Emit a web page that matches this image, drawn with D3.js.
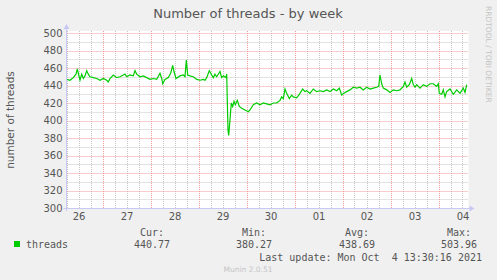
<!DOCTYPE html>
<html>
<head>
<meta charset="utf-8">
<script src="https://cdn.jsdelivr.net/npm/d3@7"></script>
<style>
  body { margin: 0; background: #f0f0f0; }
  svg { display: block; font-family: "DejaVu Sans", sans-serif; }
  .mono { font-family: "DejaVu Sans Mono", monospace; white-space: pre; }
</style>
</head>
<body>
<svg width="497" height="280"></svg>
<script>
// hours since Sep 26 06:00 and the thread count read at that time
var hours = [0.1, 1.75, 3.4, 4.75, 5.4, 6.1, 6.75, 7.6, 8.4, 9.25, 10.1, 10.9, 11.75, 13.4, 15.1, 16.75, 18.4, 20.1, 20.9, 21.75,
  23.4, 25.1, 26.75, 28.4, 29.25, 30.1, 31.75, 33.4, 34.25, 35.1, 36.75, 38.4, 40.1, 41.75, 43.4, 45.1, 46.75, 47.6, 48.1, 49.25,
  50.9, 52.1, 53.1, 53.75, 54.75, 56.75, 58.4, 59.25, 59.9, 60.6, 61.75, 63.4, 65.1, 66.75, 68.4, 69.25, 70.1, 71.4, 72.6, 73.4,
  74.25, 75.1, 76.75, 77.6, 78.4, 79.75, 80.1, 80.4, 80.75, 81.1, 81.75, 82.4, 83.1, 83.75, 84.4, 85.4, 86.4, 87.6, 89.25, 90.9,
  91.75, 93.4, 95.1, 96.75, 98.4, 100.1, 101.75, 103.4, 105.1, 106.75, 107.6, 108.4, 109.25, 110.1, 111.4, 112.6, 113.4, 115.1, 116.75, 118.1,
  119.25, 120.1, 121.75, 123.4, 125.1, 126.75, 128.4, 130.1, 131.75, 133.4, 135.1, 136.4, 137.6, 138.4, 140.1, 141.75, 143.4, 145.1, 146.75, 148.4,
  150.1, 151.75, 153.4, 155.1, 156.1, 156.75, 157.6, 158.4, 160.1, 161.75, 163.4, 165.1, 166.75, 168.4, 169.25, 170.1, 171.4, 172.6, 173.4, 174.25,
  175.1, 176.75, 178.4, 180.1, 181.75, 183.4, 185.1, 185.9, 186.4, 187.6, 188.4, 189.25, 190.1, 191.75, 193.4, 195.1, 196.75, 198.4, 199.25, 200.1];
var threads = [447, 446, 449, 453, 459, 452, 446, 453, 448, 451, 457, 453, 450, 449, 448, 446, 448, 446, 444, 448,
  452, 449, 450, 452, 453, 450, 452, 451, 457, 453, 450, 451, 449, 447, 448, 447, 454, 448, 442, 447,
  449, 454, 463, 456, 448, 451, 452, 450, 469, 452, 451, 450, 447, 446, 447, 446, 449, 457, 452, 449,
  453, 450, 456, 449, 451, 449, 453, 423, 389, 383, 401, 420, 416, 422, 418, 423, 416, 414, 412, 410,
  412, 418, 420, 418, 420, 419, 418, 420, 420, 423, 427, 425, 436, 431, 425, 429, 427, 426, 431, 436,
  433, 434, 431, 436, 433, 434, 433, 435, 433, 436, 434, 437, 429, 431, 433, 435, 438, 437, 438, 435,
  438, 436, 437, 438, 439, 452, 442, 437, 435, 432, 435, 434, 435, 439, 444, 438, 441, 448, 441, 438,
  441, 437, 441, 439, 442, 442, 439, 442, 431, 430, 435, 427, 433, 436, 430, 435, 431, 437, 432, 441];

var yTicks = [300, 320, 340, 360, 380, 400, 420, 440, 460, 480, 500];
var legendHeads = ["Cur:", "Min:", "Avg:", "Max:"];
var legendValues = ["440.77", "380.27", "438.69", "503.96"];

var svg = d3.select("svg");
var pl = 66.5, pr = 468.5, pt = 33, pb = 208;

var start = new Date(2021, 8, 26, 6, 0);
var end = d3.timeHour.offset(start, 201);
var x = d3.scaleTime().domain([start, end]).range([pl, pr]);
var y = d3.scaleLinear().domain([300, 500]).range([pb, pt]);

svg.append("rect").attr("x", pl).attr("y", pt - 2)
  .attr("width", pr - pl).attr("height", pb - pt + 2).attr("fill", "#fff");

var grey = "#c6c6c6", pink = "#f09a9a";

// minor grid
var minorX = d3.timeHour.every(6).range(start, end).filter(function (d) { return d.getHours() != 0; });
var minorY = d3.range(310, 500, 20);
var grid = svg.append("g");
grid.selectAll(".vx").data(minorX).enter().append("line")
  .attr("x1", function (d) { return Math.round(x(d)) + 0.5; })
  .attr("x2", function (d) { return Math.round(x(d)) + 0.5; })
  .attr("y1", pt - 2).attr("y2", pb)
  .attr("stroke", grey).attr("stroke-dasharray", "1,1");
grid.selectAll(".hy").data(minorY).enter().append("line")
  .attr("x1", pl).attr("x2", pr)
  .attr("y1", function (d) { return Math.round(y(d)) + 0.5; })
  .attr("y2", function (d) { return Math.round(y(d)) + 0.5; })
  .attr("stroke", grey).attr("stroke-dasharray", "1,1");

// major grid
var days = d3.timeDay.range(d3.timeDay.ceil(start), end);
grid.selectAll(".mx").data(days).enter().append("line")
  .attr("x1", function (d) { return Math.round(x(d)) + 0.5; })
  .attr("x2", function (d) { return Math.round(x(d)) + 0.5; })
  .attr("y1", pt - 2).attr("y2", pb)
  .attr("stroke", pink).attr("stroke-dasharray", "1,1");
grid.selectAll(".my").data(yTicks.slice(1)).enter().append("line")
  .attr("x1", pl).attr("x2", pr)
  .attr("y1", function (d) { return Math.round(y(d)) + 0.5; })
  .attr("y2", function (d) { return Math.round(y(d)) + 0.5; })
  .attr("stroke", pink).attr("stroke-dasharray", "1,1");

// data line
var line = d3.line()
  .x(function (d, i) { return x(d3.timeMinute.offset(start, Math.round(hours[i] * 60))); })
  .y(function (d) { return y(d); });
svg.append("path").datum(threads)
  .attr("d", line).attr("fill", "none")
  .attr("stroke", "#00cc00").attr("stroke-width", 1.2);

// axes
var yAxis = svg.append("g").attr("transform", "translate(" + (pl - 2) + ",0)")
  .call(d3.axisLeft(y).tickValues(yTicks).tickSize(0).tickPadding(2));
yAxis.select(".domain").remove();
yAxis.selectAll("text").attr("fill", "#555").style("font-size", "10px").style("font-family", "DejaVu Sans");

var noons = days.map(function (d) { return d3.timeHour.offset(d, -12); }).concat([d3.timeHour.offset(days[days.length - 1], 12)])
  .filter(function (d) { return d >= start && d <= end; });
var xAxis = svg.append("g").attr("transform", "translate(0," + (pb + 4) + ")")
  .call(d3.axisBottom(x).tickValues(noons).tickFormat(d3.timeFormat("%d")).tickSize(0).tickPadding(1));
xAxis.select(".domain").remove();
xAxis.selectAll("text").attr("fill", "#555").style("font-size", "10px").style("font-family", "DejaVu Sans");

svg.append("line").attr("x1", pl).attr("x2", pl).attr("y1", pb + 3).attr("y2", pt - 4)
  .attr("stroke", "#c8c8f4");
svg.append("line").attr("x1", pl - 3).attr("x2", pr + 2).attr("y1", pb + 0.5).attr("y2", pb + 0.5)
  .attr("stroke", "#c8c8f4");
svg.append("path").attr("d", "M" + (pl - 3) + "," + (pt - 4) + "L" + pl + "," + (pt - 9) + "L" + (pl + 3) + "," + (pt - 4) + "Z")
  .attr("fill", "#c8c8f4");
svg.append("path").attr("d", "M" + (pr + 1) + "," + (pb - 2.5) + "L" + (pr + 6) + "," + (pb + 0.5) + "L" + (pr + 1) + "," + (pb + 3.5) + "Z")
  .attr("fill", "#c8c8f4");

// titles
svg.append("text").attr("x", 248).attr("y", 18).attr("text-anchor", "middle")
  .attr("fill", "#555").style("font-size", "13px").text("Number of threads - by week");
svg.append("text").attr("transform", "translate(14,120) rotate(-90)").attr("text-anchor", "middle")
  .attr("fill", "#555").style("font-size", "10.5px").text("number of threads");
svg.append("text").attr("transform", "translate(486,6) rotate(90)")
  .attr("fill", "#c4c4c4").style("font-size", "7.5px").text("RRDTOOL / TOBI OETIKER");

// legend
svg.append("rect").attr("x", 14).attr("y", 241).attr("width", 6).attr("height", 6).attr("fill", "#00cc00");
svg.append("text").attr("class", "mono").attr("x", 26).attr("y", 248)
  .attr("fill", "#555").style("font-size", "10px").text("threads");
var colEnds = [170, 272, 375, 477];
svg.selectAll(".head").data(legendHeads).enter().append("text").attr("class", "mono")
  .attr("x", function (d, i) { return colEnds[i] - 6; }).attr("y", 236).attr("text-anchor", "end")
  .attr("fill", "#555").style("font-size", "10px").text(function (d) { return d; });
svg.selectAll(".val").data(legendValues).enter().append("text").attr("class", "mono")
  .attr("x", function (d, i) { return colEnds[i]; }).attr("y", 248).attr("text-anchor", "end")
  .attr("fill", "#555").style("font-size", "10px").text(function (d) { return d; });
svg.append("text").attr("class", "mono").attr("x", 482).attr("y", 261).attr("text-anchor", "end")
  .attr("fill", "#555").style("font-size", "10px").text("Last update: Mon Oct  4 13:30:16 2021");
svg.append("text").attr("x", 248).attr("y", 272).attr("text-anchor", "middle")
  .attr("fill", "#c4c4c4").style("font-size", "7.5px").text("Munin 2.0.51");
</script>
</body>
</html>
